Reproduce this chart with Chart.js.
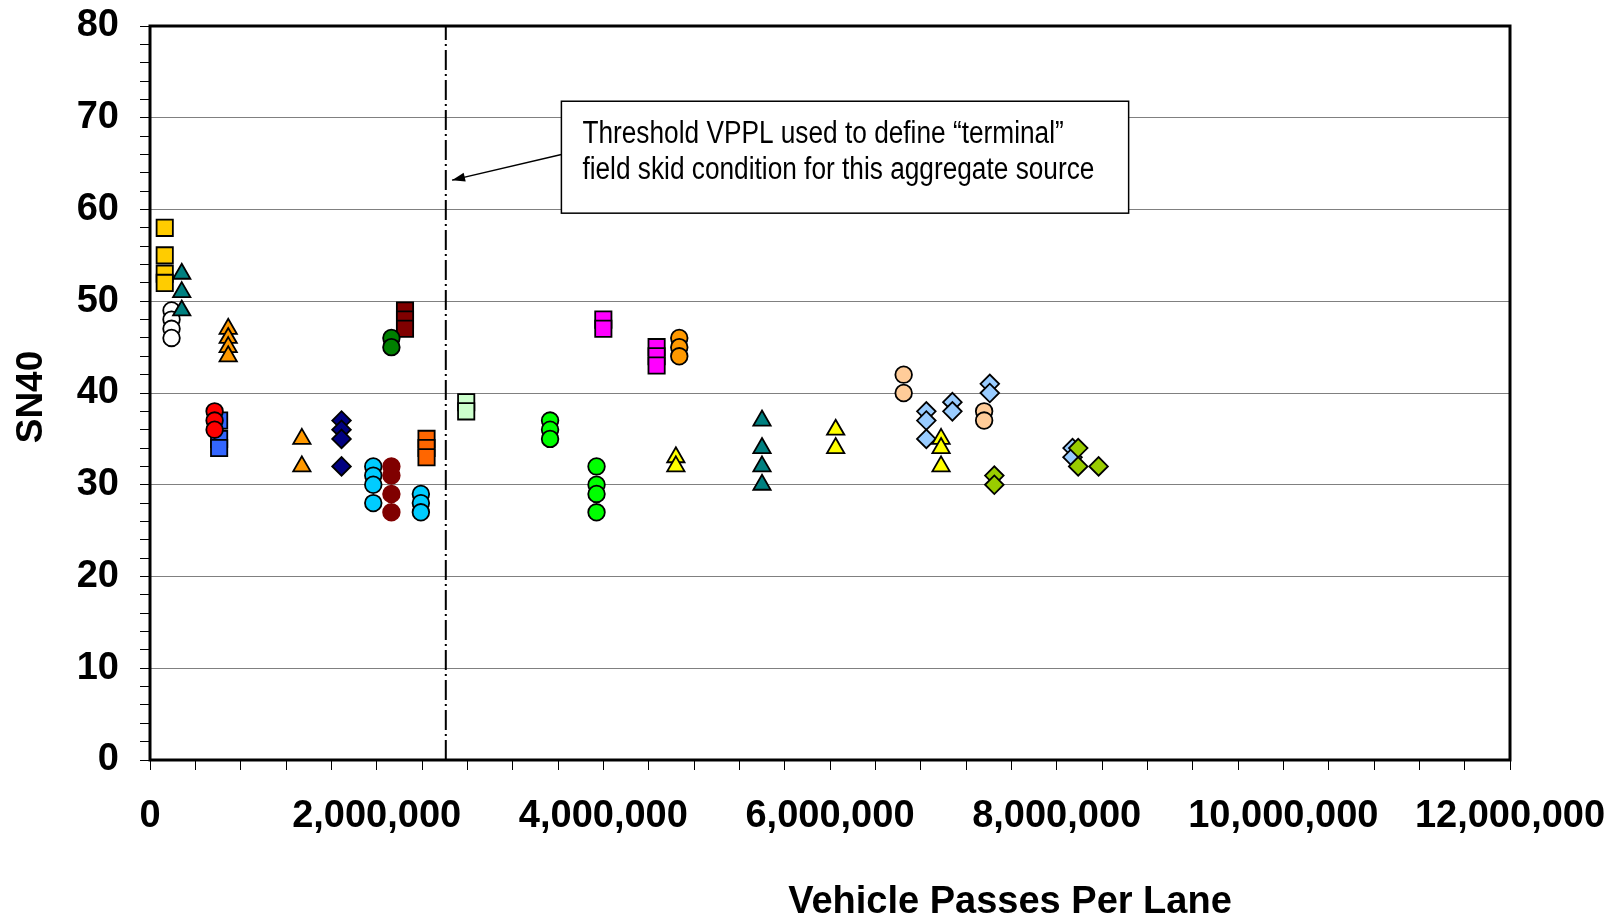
<!DOCTYPE html>
<html>
<head>
<meta charset="utf-8">
<script src="https://cdn.jsdelivr.net/npm/chart.js@4.4.1/dist/chart.umd.min.js"></script>
<style>
  html, body { margin: 0; padding: 0; background: #fff; }
</style>
</head>
<body>
<canvas id="skidChart" width="1612" height="918"></canvas>
<script>
// SN40 readings per aggregate group, [vehicle passes per lane, SN40]
var goldSquares = [[130000, 58], [130000, 55], [130000, 53], [130000, 52]];
var whiteCircles = [[190000, 49], [190000, 48], [190000, 47], [190000, 46]];
var tealTriangles = [[280000, 53], [280000, 51], [280000, 49],
                     [5400000, 37], [5400000, 34], [5400000, 32], [5400000, 30]];
var orangeTriangles = [[690000, 47], [690000, 46], [690000, 45], [690000, 44],
                       [1340000, 35], [1340000, 32]];
var redCircles = [[570000, 38], [570000, 37], [570000, 36]];
var blueSquares = [[610000, 37], [610000, 35], [610000, 34]];
var navyDiamonds = [[1690000, 37], [1690000, 36], [1690000, 35], [1690000, 32]];
var cyanCircles = [[1970000, 32], [1970000, 31], [1970000, 30], [1970000, 28],
                   [2390000, 29], [2390000, 28], [2390000, 27]];
var darkGreenCircles = [[2130000, 46], [2130000, 45]];
var maroonCircles = [[2130000, 32], [2130000, 31], [2130000, 29], [2130000, 27]];
var maroonSquares = [[2250000, 49], [2250000, 48], [2250000, 47]];
var orangeSquares = [[2440000, 35], [2440000, 34], [2440000, 33]];
var paleGreenSquares = [[2790000, 39], [2790000, 38]];
var greenCircles = [[3530000, 37], [3530000, 36], [3530000, 35],
                    [3940000, 32], [3940000, 30], [3940000, 29], [3940000, 27]];
var magentaSquares = [[4000000, 48], [4000000, 47],
                      [4470000, 45], [4470000, 44], [4470000, 43]];
var orangeCircles = [[4670000, 46], [4670000, 45], [4670000, 44]];
var yellowTriangles = [[4640000, 33], [4640000, 32], [6050000, 36], [6050000, 34],
                       [6980000, 35], [6980000, 34], [6980000, 32]];
var peachCircles = [[6650000, 42], [6650000, 40], [7360000, 38], [7360000, 37]];
var skyDiamonds = [[6850000, 38], [6850000, 37], [6850000, 35], [7080000, 39], [7080000, 38],
                   [7410000, 41], [7410000, 40], [8140000, 34], [8140000, 33]];
var limeDiamonds = [[7450000, 31], [7450000, 30], [8190000, 34], [8190000, 32], [8370000, 32]];

var thresholdVPPL = 2610000;
var xTickLabels = ['0', '2,000,000', '4,000,000', '6,000,000', '8,000,000', '10,000,000', '12,000,000'];
var yTickLabels = ['0', '10', '20', '30', '40', '50', '60', '70', '80'];
var noteLines = ['Threshold VPPL used to define \u201cterminal\u201d', 'field skid condition for this aggregate source'];

function pts(arr) {
  return arr.map(function (p) { return { x: p[0], y: p[1] }; });
}
function grp(name, arr, shape, fill, r, edge) {
  return {
    label: name,
    data: pts(arr),
    pointStyle: shape,
    pointRadius: r,
    pointHoverRadius: r,
    pointBackgroundColor: fill,
    pointBorderColor: edge || '#000',
    pointBorderWidth: 1.8,
    showLine: false
  };
}

var CIRC = 8.3, SQ = 11.5, TRI = 10, DIA = 9.3;

// index 0 is painted last (on top)
var datasets = [
  grp('gold sq', goldSquares, 'rect', '#FFCC00', SQ),
  grp('teal tri', tealTriangles, 'triangle', '#008080', TRI),
  grp('white circ', whiteCircles, 'circle', '#FFFFFF', CIRC),
  grp('orange tri', orangeTriangles, 'triangle', '#FF9900', TRI),
  grp('red circ', redCircles, 'circle', '#FF0000', CIRC),
  grp('blue sq', blueSquares, 'rect', '#3366FF', SQ),
  grp('navy dia', navyDiamonds, 'rectRot', '#000080', DIA),
  grp('dark green circ', darkGreenCircles, 'circle', '#008000', CIRC),
  grp('maroon sq', maroonSquares, 'rect', '#800000', SQ),
  grp('maroon circ', maroonCircles, 'circle', '#800000', CIRC, '#800000'),
  grp('cyan circ', cyanCircles, 'circle', '#00CCFF', CIRC),
  grp('orange sq', orangeSquares, 'rect', '#FF6600', SQ),
  grp('pale green sq', paleGreenSquares, 'rect', '#CCFFCC', SQ),
  grp('green circ', greenCircles, 'circle', '#00FF00', CIRC),
  grp('magenta sq', magentaSquares, 'rect', '#FF00FF', SQ),
  grp('orange circ', orangeCircles, 'circle', '#FF9900', CIRC),
  grp('yellow tri', yellowTriangles, 'triangle', '#FFFF00', TRI),
  grp('lime dia', limeDiamonds, 'rectRot', '#99CC00', DIA),
  grp('sky dia', skyDiamonds, 'rectRot', '#99CCFF', DIA),
  grp('peach circ', peachCircles, 'circle', '#FFCC99', CIRC),
  {
    label: 'threshold',
    data: [{ x: thresholdVPPL, y: 0 }, { x: thresholdVPPL, y: 80 }],
    showLine: true,
    borderColor: '#000',
    borderWidth: 2,
    borderDash: [20, 4, 2, 4],
    pointRadius: 0,
    pointHoverRadius: 0
  }
];

var tickFont = { family: '"Liberation Sans", Arial, sans-serif', size: 38, weight: 'bold' };

// keep the plot area where the reference has it
function fixBox(s, w, h) {
  if (w) s.width = w;
  if (h) s.height = h;
  s.paddingTop = 0; s.paddingBottom = 0; s.paddingLeft = 0; s.paddingRight = 0;
}

// frame, note box with arrow, axis titles
var extras = {
  id: 'extras',
  afterDraw: function (chart) {
    var c = chart.ctx, a = chart.chartArea;
    var xs = chart.scales.x, ys = chart.scales.y;
    c.save();
    c.strokeStyle = '#000';
    c.lineWidth = 3;
    c.strokeRect(a.left, a.top, a.right - a.left, a.bottom - a.top);

    // arrow from note box to threshold line
    var x0 = xs.getPixelForValue(3630000), y0 = ys.getPixelForValue(66.0);
    var x1 = xs.getPixelForValue(2665000), y1 = ys.getPixelForValue(63.2);
    var ang = Math.atan2(y1 - y0, x1 - x0);
    c.lineWidth = 1.5;
    c.beginPath(); c.moveTo(x0, y0); c.lineTo(x1, y1); c.stroke();
    c.fillStyle = '#000';
    c.beginPath();
    c.moveTo(x1, y1);
    c.lineTo(x1 - 13 * Math.cos(ang) + 4.5 * Math.sin(ang), y1 - 13 * Math.sin(ang) - 4.5 * Math.cos(ang));
    c.lineTo(x1 - 13 * Math.cos(ang) - 4.5 * Math.sin(ang), y1 - 13 * Math.sin(ang) + 4.5 * Math.cos(ang));
    c.closePath(); c.fill();

    // note box
    var bl = xs.getPixelForValue(3630000), br = xs.getPixelForValue(8635000);
    var bt = ys.getPixelForValue(71.8), bb = ys.getPixelForValue(59.6);
    c.fillStyle = '#fff';
    c.fillRect(bl, bt, br - bl, bb - bt);
    c.strokeStyle = '#000';
    c.lineWidth = 1.5;
    c.strokeRect(bl, bt, br - bl, bb - bt);
    c.fillStyle = '#000';
    c.font = '31px "Liberation Sans Narrow", "Liberation Sans", Arial, sans-serif';
    c.textAlign = 'left';
    c.textBaseline = 'alphabetic';
    var sx = 512 / c.measureText(noteLines[1]).width;
    for (var i = 0; i < noteLines.length; i++) {
      c.save();
      c.translate(bl + 21, bt + 42 + i * 36);
      c.scale(sx, 1);
      c.fillText(noteLines[i], 0, 0);
      c.restore();
    }

    // axis titles
    c.textAlign = 'center';
    c.font = 'bold 38px "Liberation Sans", Arial, sans-serif';
    c.fillText('Vehicle Passes Per Lane', 1010, 913);
    c.font = 'bold 37px "Liberation Sans", Arial, sans-serif';
    c.translate(42, 397);
    c.rotate(-Math.PI / 2);
    c.fillText('SN40', 0, 0);
    c.restore();
  }
};

new Chart(document.getElementById('skidChart').getContext('2d'), {
  type: 'scatter',
  data: { datasets: datasets },
  options: {
    responsive: false,
    animation: false,
    layout: { padding: { top: 26, right: 102, left: 0, bottom: 0 } },
    plugins: {
      legend: { display: false },
      tooltip: { enabled: false }
    },
    scales: {
      x: {
        type: 'linear',
        min: 0,
        max: 12000000,
        border: { display: false },
        grid: { color: 'rgba(0,0,0,0)', tickColor: '#000', tickLength: 10 },
        ticks: {
          stepSize: 400000,
          maxTicksLimit: 100,
          autoSkip: false,
          maxRotation: 0,
          minRotation: 0,
          padding: 24,
          color: '#000',
          font: tickFont,
          callback: function (v) {
            var k = Math.round(v / 400000);
            return k % 5 === 0 ? xTickLabels[k / 5] : '';
          }
        },
        afterFit: function (s) { fixBox(s, 0, 158); }
      },
      y: {
        min: 0,
        max: 80,
        border: { display: false },
        grid: {
          color: function (ctx) {
            return ctx.tick && Math.round(ctx.tick.value) % 10 === 0 ? '#808080' : 'rgba(0,0,0,0)';
          },
          tickColor: '#000',
          tickLength: 10,
          lineWidth: 1
        },
        ticks: {
          stepSize: 2,
          maxTicksLimit: 100,
          autoSkip: false,
          padding: 21,
          color: '#000',
          font: tickFont,
          callback: function (v) {
            var k = Math.round(v);
            return k % 10 === 0 ? yTickLabels[k / 10] : '';
          }
        },
        afterFit: function (s) { fixBox(s, 150, 0); }
      }
    }
  },
  plugins: [extras]
});
</script>
</body>
</html>
